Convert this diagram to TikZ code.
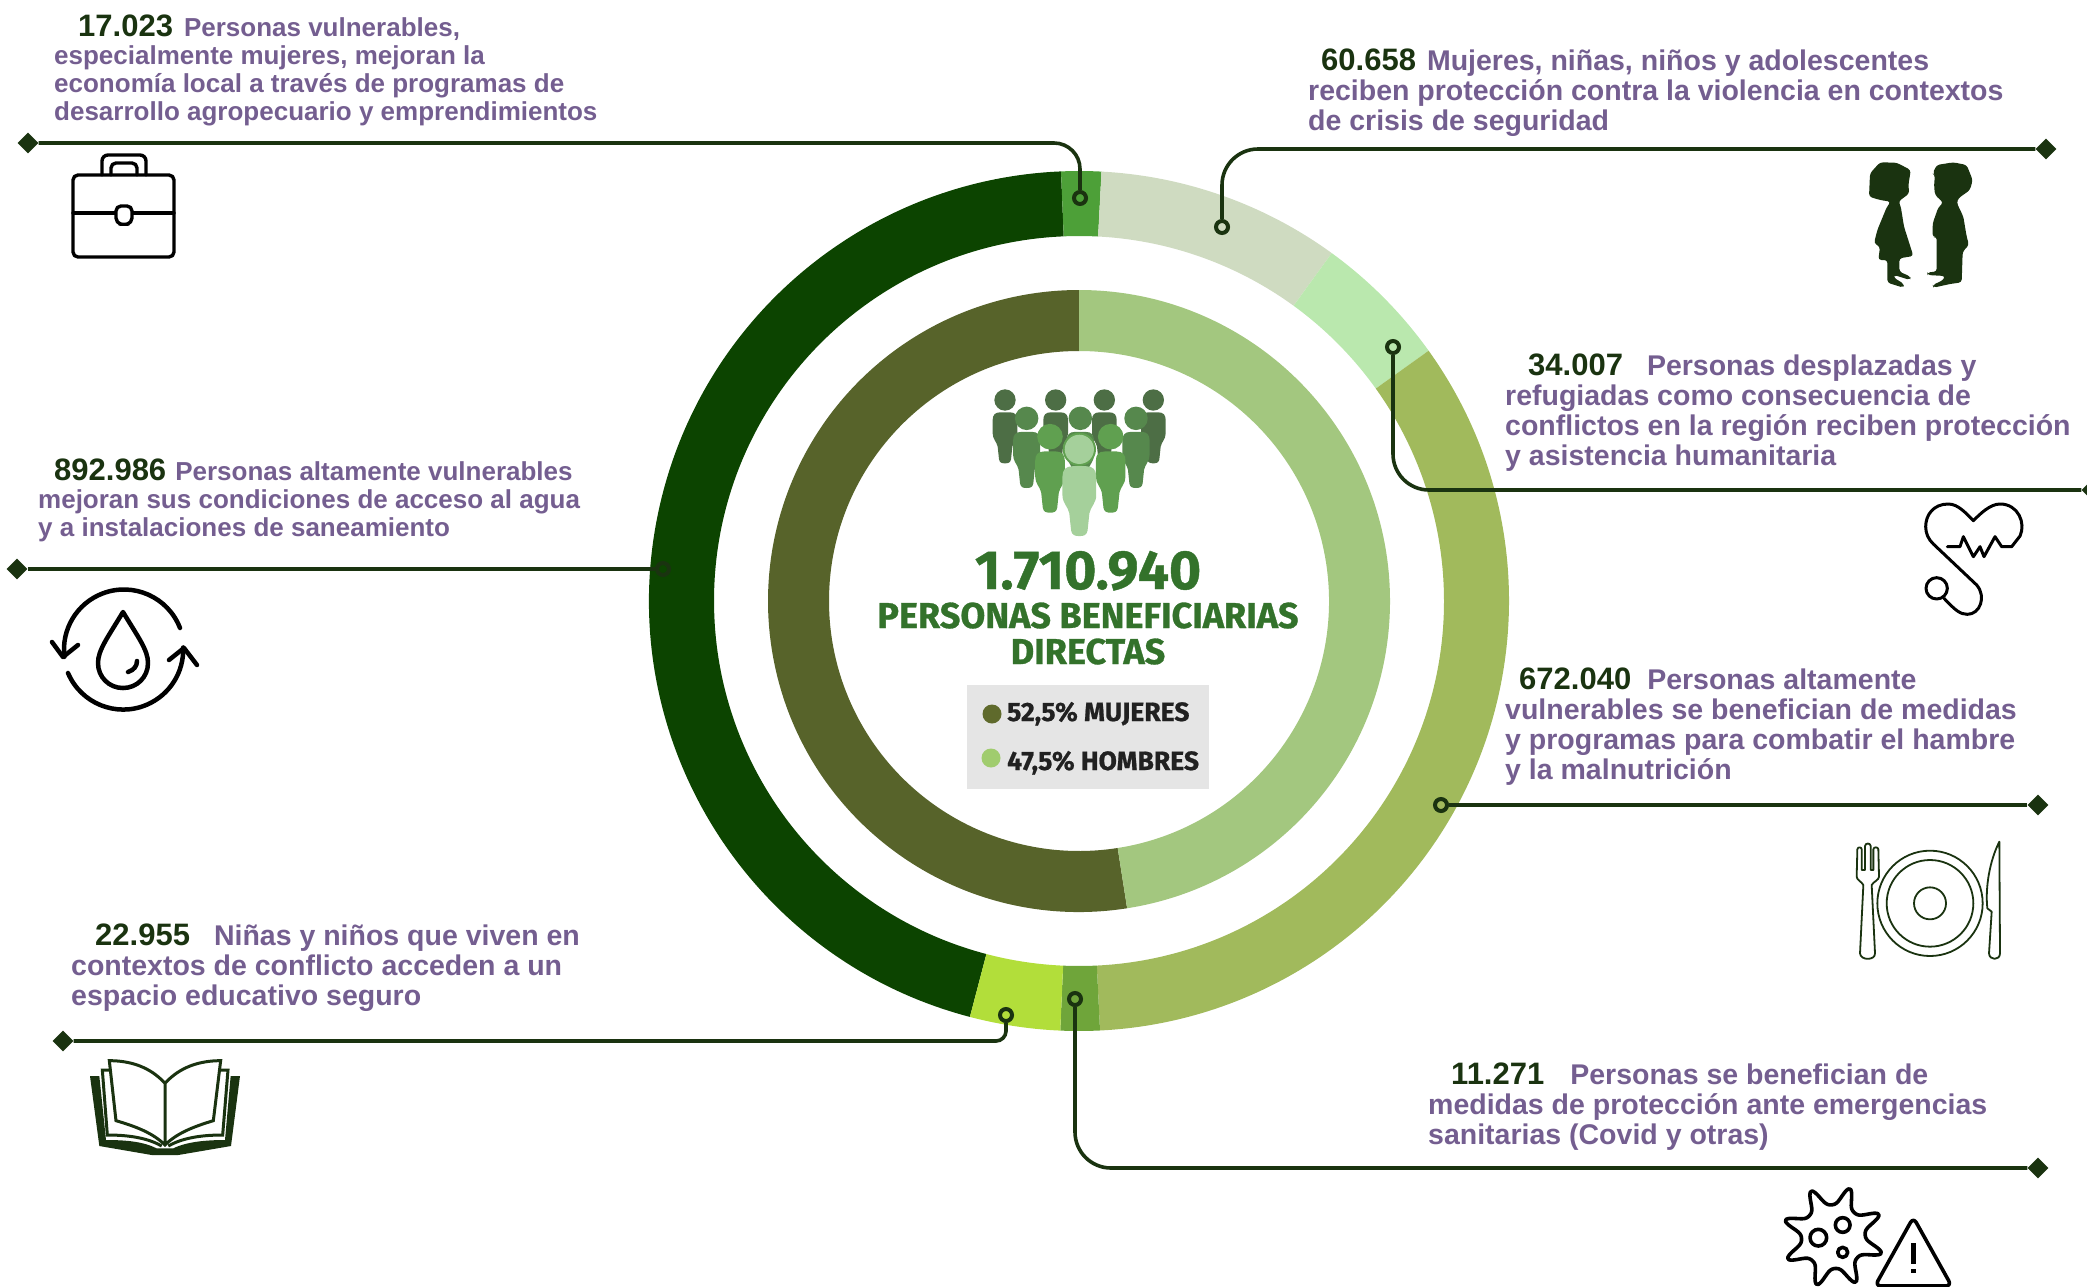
\documentclass[tikz,border=0pt]{standalone}
\usepackage{fontspec}
\usepackage{xcolor}
\setmainfont{Liberation Sans}
\newfontfamily\headfont[BoldFeatures={FakeBold=0.8}]{Fira Sans}
\usetikzlibrary{calc}
\usetikzlibrary{shapes,positioning}

\definecolor{leaderink}{HTML}{1A3310}
\definecolor{bodyink}{HTML}{745E90}
\definecolor{headink}{HTML}{33722B}
\definecolor{segdark}{HTML}{0C4400}
\definecolor{segbright}{HTML}{4DA038}
\definecolor{segpale}{HTML}{CFDBC1}
\definecolor{seglight}{HTML}{BAE8AE}
\definecolor{segolive}{HTML}{A1BA5C}
\definecolor{segmid}{HTML}{6FA53A}
\definecolor{seglime}{HTML}{B2DE3A}
\definecolor{segwomen}{HTML}{57632A}
\definecolor{segmen}{HTML}{A3C77F}
\definecolor{legendwomen}{HTML}{5F6A2C}
\definecolor{legendmen}{HTML}{A0CC6E}
\definecolor{grouprear}{HTML}{4D6E45}
\definecolor{groupsecond}{HTML}{56884D}
\definecolor{groupthird}{HTML}{60A050}
\definecolor{groupfront}{HTML}{A5D09B}

% ring sector: from angle, to angle, outer radius, inner radius, colour
\newcommand{\ringseg}[5]{
    \fill[#5] (1079,601) ++(#1:#3) arc[start angle=#1, end angle=#2, radius=#3]
        -- ($(1079,601)+(#2:#4)$) arc[start angle=#2, end angle=#1, radius=#4] -- cycle;
}
% one figure of the group: x, y of head, scale, colour
\newcommand{\personfig}[4]{
    \begin{scope}[shift={(#1,#2)},scale=#3]
        \fill[#4] (0,0) circle (32);
        \fill[#4] (-37,60) .. controls (-37,45) and (-30,37) .. (-15,37) -- (15,37)
            .. controls (30,37) and (37,45) .. (37,60) -- (37,100)
            .. controls (37,118) and (25,125) .. (22,140) -- (18,178)
            .. controls (16,188) and (10,190) .. (0,190)
            .. controls (-10,190) and (-16,188) .. (-18,178) -- (-22,140)
            .. controls (-25,125) and (-37,118) .. (-37,100) -- cycle;
    \end{scope}
}
% the figure that opens a text
\newcommand{\tally}[2][31]{{\fontsize{#1}{#1}\selectfont\color{leaderink}#2}}

\begin{document}
\begin{tikzpicture}[
        x=1pt, y=-1pt,
        leader/.style={draw=leaderink, line width=3.6pt},
        enddot/.style={circle, draw=leaderink, line width=4pt, minimum size=12pt, inner sep=0pt},
        endtip/.style={diamond, fill=leaderink, minimum size=21pt, inner sep=0pt},
        blurb/.style={anchor=base west, inner sep=0pt, align=left, text=bodyink,
            font=\fontsize{26}{28}\selectfont\bfseries},
        blurbwide/.style={blurb, font=\fontsize{28.5}{30}\selectfont\bfseries},
        centreline/.style={inner sep=0pt, anchor=base, text=headink},
        legendline/.style={inner sep=0pt, anchor=base west, text=black!87,
            font=\headfont\bfseries\fontsize{26.5}{26.5}\selectfont},
        legenddot/.style={circle, inner sep=0pt, minimum size=19pt},
        iconline/.style={draw=black, line width=3.4pt, line cap=round, line join=round}
    ]
    \useasboundingbox (0,0) rectangle (2087,1286);

    % Outer ring
    \ringseg{104.7}{267.6}{430}{365}{segdark}
    \ringseg{267.6}{273}{430}{365}{segbright}
    \ringseg{273}{306}{430}{365}{segpale}
    \ringseg{306}{324.4}{430}{365}{seglight}
    \ringseg{324.4}{447.2}{430}{365}{segolive}
    \ringseg{87.2}{92.5}{430}{365}{segmid}
    \ringseg{92.5}{104.7}{430}{365}{seglime}

    % Inner ring
    \ringseg{81.1}{270}{311}{250}{segwomen}
    \ringseg{270}{441.1}{311}{250}{segmen}

    % Group of people
    \begin{scope}[shift={(950,360)},scale=1/3]
        \foreach \x in {165,317,463,610} {
            \personfig{\x}{120}{1}{grouprear}
        }
        \foreach \x in {230,391,558} {
            \personfig{\x}{175}{1.1}{groupsecond}
        }
        \foreach \x in {300,482} {
            \personfig{\x}{230}{1.2}{groupthird}
        }
        \fill[groupthird] (388,268) circle (50);
        \personfig{388}{268}{1.37}{groupfront}
    \end{scope}

    % Central total
    \node[centreline, font=\headfont\bfseries\fontsize{55}{55}\selectfont] (total) at (1088,589) {1.710.940};
    \node[centreline, font=\headfont\bfseries\fontsize{36}{36}\selectfont] (totalline) at (1088,628) {PERSONAS BENEFICIARIAS};
    \node[centreline, font=\headfont\bfseries\fontsize{36}{36}\selectfont] (totaltwo) at (1088,664) {DIRECTAS};

    % Legend
    \fill[black!10] (967,685) rectangle (1209,789);
    \node[legenddot, fill=legendwomen] (dotwomen) at (992,714) {};
    \node[legenddot, fill=legendmen] (dotmen) at (991,758) {};
    \node[legendline] (labwomen) at (1007,721) {52,5\% MUJERES};
    \node[legendline] (labmen) at (1007,770) {47,5\% HOMBRES};

    % End points of the leaders
    \node[endtip] (tipwork) at (28,143) {};
    \node[enddot] (dotwork) at (1080,198) {};
    \node[endtip] (tipchild) at (2046,149) {};
    \node[enddot] (dotchild) at (1222,227) {};
    \node[endtip] (tipmove) at (2092,490) {};
    \node[enddot] (dotmove) at (1393,347) {};
    \node[endtip] (tipfood) at (2038,805) {};
    \node[enddot] (dotfood) at (1441,805) {};
    \node[endtip] (tipcovid) at (2038,1168) {};
    \node[enddot] (dotcovid) at (1075,999) {};
    \node[endtip] (tipschool) at (63,1041) {};
    \node[enddot] (dotschool) at (1006,1015) {};
    \node[endtip] (tipwater) at (17,569) {};
    \node[enddot] (dotwater) at (663,569) {};

    % Leaders
    \draw[leader, rounded corners=26pt] (tipwork) -| (dotwork);
    \draw[leader, rounded corners=36pt] (tipchild) -| (dotchild);
    \draw[leader, rounded corners=36pt] (tipmove) -| (dotmove);
    \draw[leader] (tipfood) -- (dotfood);
    \draw[leader, rounded corners=36pt] (tipcovid) -| (dotcovid);
    \draw[leader, rounded corners=10pt] (tipschool) -| (dotschool);
    \draw[leader] (tipwater) -- (dotwater);

    % Texts
    \node[blurb] (txtwork) at (54,120) {\hspace*{24pt}\tally{17.023}\hspace{11pt}Personas vulnerables,\\
        especialmente mujeres, mejoran la\\
        economía local a través de programas de\\
        desarrollo agropecuario y emprendimientos};
    \node[blurbwide] (txtchild) at (1308,130) {\hspace*{13pt}\tally{60.658}\hspace{11pt}Mujeres, niñas, niños y adolescentes\\
        reciben protección contra la violencia en contextos\\
        de crisis de seguridad};
    \node[blurbwide] (txtmove) at (1505,465) {\hspace*{23pt}\tally{34.007}\hspace{24pt}Personas desplazadas y\\
        refugiadas como consecuencia de\\
        conflictos en la región reciben protección\\
        y asistencia humanitaria};
    \node[blurbwide] (txtfood) at (1505,779) {\hspace*{14pt}\tally{672.040}\hspace{16pt}Personas altamente\\
        vulnerables se benefician de medidas\\
        y programas para combatir el hambre\\
        y la malnutrición};
    \node[blurbwide] (txtcovid) at (1428,1144) {\hspace*{23pt}\tally{11.271}\hspace{26pt}Personas se benefician de\\
        medidas de protección ante emergencias\\
        sanitarias (Covid y otras)};
    \node[blurbwide] (txtschool) at (71,1005) {\hspace*{24pt}\tally{22.955}\hspace{24pt}Niñas y niños que viven en\\
        contextos de conflicto acceden a un\\
        espacio educativo seguro};
    \node[blurb] (txtwater) at (38,536) {\hspace*{16pt}\tally{892.986}\hspace{9pt}Personas altamente vulnerables\\
        mejoran sus condiciones de acceso al agua\\
        y a instalaciones de saneamiento};

    % Briefcase
    \draw[iconline, rounded corners=5pt] (73,175) rectangle (174,257);
    \draw[iconline, rounded corners=5pt] (73,213) -- (174,213);
    \draw[iconline, rounded corners=6pt] (102,175) -- (102,155) -- (146,155) -- (146,175);
    \draw[iconline, rounded corners=5pt] (111,175) -- (111,163) -- (137,163) -- (137,175);
    \draw[iconline, fill=white, rounded corners=5pt] (116,206) -- (132,206) -- (132,223) -- (124,225) -- (116,223) -- cycle;

    % Water cycle
    \begin{scope}[line width=4.5pt, line cap=round, line join=round]
        \draw (180,628) arc[start angle=339, end angle=173, radius=60];
        \draw (52,642) -- (63,657) -- (78,645);
        \draw (68,673) arc[start angle=157, end angle=-2, radius=60];
        \draw (169,660) -- (184,648) -- (197,665);
        \draw (123,612) .. controls (108,637) and (98,650) .. (98,663)
            .. controls (98,677) and (109,688) .. (123,688)
            .. controls (137,688) and (148,677) .. (148,663)
            .. controls (148,650) and (138,637) .. cycle;
        \draw (128,672) .. controls (134,670) and (137,666) .. (137,661);
    \end{scope}

    % Children
    \begin{scope}[shift={(1780,130)},scale=1/3]
        \fill[leaderink, rounded corners=3pt] (267,200) -- (270,130) -- (300,97) -- (350,98) -- (392,120)
            -- (390,135) -- (385,165) -- (388,190) -- (355,215) -- (362,228) -- (372,290) -- (400,378)
            -- (358,385) -- (358,425) -- (392,440) -- (390,450) -- (342,435) -- (340,442) -- (372,462)
            -- (370,473) -- (322,458) -- (322,390) -- (295,390) -- (300,350) -- (282,340) -- (292,300)
            -- (320,232) -- (332,215) -- (300,210) -- cycle;
        \fill[leaderink, rounded corners=3pt] (458,130) -- (470,105) -- (520,97) -- (560,105) -- (578,150)
            -- (570,180) -- (535,205) -- (530,218) -- (550,260) -- (560,320) -- (567,345) -- (548,365)
            -- (545,457) -- (510,462) -- (460,473) -- (458,465) -- (490,450) -- (495,438) -- (442,435)
            -- (442,427) -- (470,425) -- (470,320) -- (458,322) -- (458,280) -- (475,232) -- (490,218)
            -- (465,195) -- (462,165) -- (465,135) -- cycle;
    \end{scope}

    % Stethoscope and heart
    \begin{scope}[shift={(1780,130)},scale=1/3, line width=3pt, line cap=round, line join=round]
        \draw (502,1250) -- (540,1250) -- (550,1220) -- (580,1280) -- (600,1250) -- (612,1280) -- (645,1220)
            -- (665,1250) -- (695,1250) -- (720,1218)
            .. controls (738,1180) and (715,1122) .. (660,1122)
            .. controls (630,1122) and (600,1152) .. (580,1172)
            .. controls (560,1152) and (535,1122) .. (505,1122)
            .. controls (460,1122) and (437,1155) .. (437,1190)
            .. controls (437,1210) and (445,1228) .. (460,1242)
            -- (590,1365) .. controls (620,1400) and (600,1453) .. (562,1453)
            .. controls (540,1453) and (525,1440) .. (492,1405);
        \draw (470,1375) circle (32);
    \end{scope}

    % Plate and cutlery
    \begin{scope}[shift={(1760,780)},scale=1/3, draw=leaderink, line width=1.8pt, line join=round]
        \draw (510,370) circle (158);
        \draw (510,370) circle (130);
        \draw (510,370) circle (48);
        \draw (290,290) -- (292,208) .. controls (293,200) and (304,200) .. (305,208) -- (305,270)
            -- (315,270) -- (315,198) .. controls (316,188) and (331,188) .. (332,198) -- (332,270)
            -- (340,270) -- (340,208) .. controls (341,200) and (354,200) .. (355,208) -- (357,290)
            .. controls (357,300) and (340,305) .. (335,315) -- (345,520)
            .. controls (346,542) and (301,542) .. (300,520) -- (310,315)
            .. controls (305,305) and (290,300) .. cycle;
        \draw (718,185) -- (720,520) .. controls (720,542) and (688,542) .. (687,520) -- (695,395)
            -- (682,385) .. controls (675,320) and (690,240) .. cycle;
    \end{scope}

    % Virus and warning sign
    \begin{scope}[shift={(1760,780)},scale=1/3, line width=3.6pt, line join=round]
        \draw plot[smooth cycle, domain=0:357.5, samples=144]
            ({220+(92+60*exp(1.4*(cos(8*(\x-19))-1)))*cos(\x)},{1370+(92+60*exp(1.4*(cos(8*(\x-19))-1)))*sin(\x)});
        \draw (175,1373) circle (25);
        \draw (248,1335) circle (22);
        \draw (248,1417) circle (15);
        \draw[rounded corners=6pt, fill=white] (460,1312) -- (345,1518) -- (575,1518) -- cycle;
        \fill (453,1388) rectangle (467,1452);
        \fill (453,1466) rectangle (467,1480);
    \end{scope}

    % Open book
    \begin{scope}[shift={(50,1020)},scale=1/3]
        \fill[leaderink] (120,168) -- (148,168) -- (168,360) .. controls (230,360) and (280,365) .. (320,385)
            -- (370,385) .. controls (410,365) and (470,360) .. (525,360) -- (542,168) -- (570,168)
            -- (543,378) -- (385,405) -- (305,405) -- (148,378) -- cycle;
        \begin{scope}[draw=leaderink, line width=3pt, line join=miter]
            \draw (345,190) .. controls (300,140) and (240,122) .. (178,122)
                -- (198,302) .. controls (260,320) and (310,340) .. (345,375)
                .. controls (380,340) and (430,320) .. (490,302)
                -- (512,122) .. controls (450,122) and (390,140) .. (345,190) -- (345,375);
            \draw (178,150) -- (157,150) -- (172,345) .. controls (230,345) and (290,352) .. (335,378);
            \draw (512,150) -- (534,150) -- (518,345) .. controls (460,345) and (400,352) .. (355,378);
        \end{scope}
    \end{scope}
\end{tikzpicture}
\end{document}
